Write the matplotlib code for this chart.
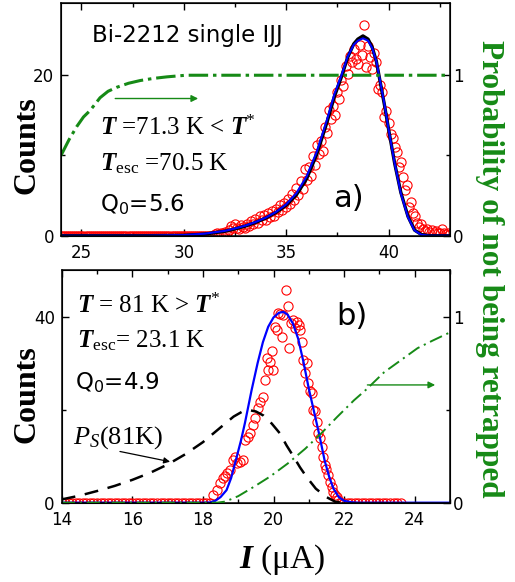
import matplotlib
matplotlib.use('Agg')
import matplotlib.pyplot as plt
from matplotlib.ticker import MultipleLocator

plt.rcParams['mathtext.fontset'] = 'custom'
plt.rcParams['mathtext.rm'] = 'Liberation Serif'
plt.rcParams['mathtext.it'] = 'Liberation Serif:italic'
plt.rcParams['mathtext.bf'] = 'Liberation Serif:bold'
plt.rcParams['mathtext.bfit'] = 'Liberation Serif:italic:bold'
plt.rcParams['mathtext.sf'] = 'DejaVu Sans'
plt.rcParams['lines.scale_dashes'] = False

# ---- panel a) : T = 71.3 K ----
topI = [24.0, 24.1, 24.2, 24.3, 24.4, 24.5, 24.6, 24.7, 24.8, 24.9,
        25.0, 25.1, 25.2, 25.3, 25.4, 25.5, 25.6, 25.7, 25.8, 25.9,
        26.0, 26.1, 26.2, 26.3, 26.4, 26.5, 26.6, 26.7, 26.8, 26.9,
        27.0, 27.1, 27.2, 27.3, 27.4, 27.5, 27.6, 27.7, 27.8, 27.9,
        28.0, 28.1, 28.2, 28.3, 28.4, 28.5, 28.6, 28.7, 28.8, 28.9,
        29.0, 29.1, 29.2, 29.3, 29.4, 29.5, 29.6, 29.7, 29.8, 29.9,
        30.0, 30.1, 30.2, 30.3, 30.4, 30.5, 30.6, 30.7, 30.8, 30.9,
        31.0, 31.1, 31.2, 31.3, 31.4, 31.5, 31.6, 31.7, 31.8, 31.9,
        32.0, 32.1, 32.2, 32.3, 32.4, 32.5, 32.6, 32.7, 32.8, 32.9,
        33.0, 33.1, 33.2, 33.3, 33.4, 33.5, 33.6, 33.7, 33.8, 33.9,
        34.0, 34.1, 34.2, 34.3, 34.4, 34.5, 34.6, 34.7, 34.8, 34.9,
        35.0, 35.1, 35.2, 35.3, 35.4, 35.5, 35.6, 35.7, 35.8, 35.9,
        36.0, 36.1, 36.2, 36.3, 36.4, 36.5, 36.6, 36.7, 36.8, 36.9,
        37.0, 37.1, 37.2, 37.3, 37.4, 37.5, 37.6, 37.7, 37.8, 37.9,
        38.0, 38.1, 38.2, 38.3, 38.4, 38.5, 38.6, 38.7, 38.8, 38.9,
        39.0, 39.1, 39.2, 39.3, 39.4, 39.5, 39.6, 39.7, 39.8, 39.9,
        40.0, 40.1, 40.2, 40.3, 40.4, 40.5, 40.6, 40.7, 40.8, 40.9,
        41.0, 41.1, 41.2, 41.3, 41.4, 41.5, 41.6, 41.7, 41.8, 41.9,
        42.0, 42.1, 42.2, 42.3, 42.4, 42.5, 42.6, 42.7, 42.8, 42.9,
        43.0]
topCounts = [0, 0, 0, 0, 0, 0, 0, 0, 0, 0,
             0, 0, 0, 0, 0, 0, 0, 0, 0, 0,
             0, 0, 0, 0, 0, 0, 0, 0, 0, 0,
             0, 0, 0, 0, 0, 0, 0, 0, 0, 0,
             0, 0, 0, 0, 0, 0, 0, 0, 0, 0,
             0, 0, 0, 0, 0, 0, 0, 0, 0, 0,
             0, 0, 0, 0, 0, 0, 0, 0, 0, 0,
             0, 0, 0, 0, 0, 0.2, 0.3, 0.2, 0.4, 0.3,
             0.5, 0.4, 0.7, 1.2, 0.9, 1.4, 1.0, 0.8, 1.3, 1.1,
             0.9, 1.5, 1.2, 1.8, 1.4, 2.1, 1.6, 2.4, 1.9, 2.6,
             2.0, 2.8, 2.3, 3.1, 2.5, 3.3, 2.9, 3.8, 3.2, 4.1,
             3.6, 4.6, 3.9, 5.2, 4.5, 5.9, 5.1, 6.8, 5.8, 8.3,
             7.0, 8.6, 7.5, 9.9, 8.8, 11.3, 10.2, 11.8, 10.5, 13.6,
             12.8, 15.7, 14.5, 16.2, 15.0, 17.9, 17.1, 19.4, 18.6, 21.2,
             20.1, 22.4, 21.6, 23.3, 22.0, 21.4, 23.8, 22.5, 26.2, 21.0,
             23.6, 22.3, 20.8, 22.8, 21.7, 18.3, 18.8, 17.9, 14.8, 15.6,
             14.0, 12.7, 12.2, 11.1, 10.4, 8.6, 9.2, 7.3, 5.7, 6.3,
             3.6, 4.2, 2.8, 2.4, 1.6, 1.1, 1.4, 0.8, 0.6, 0.8,
             0.5, 0.7, 0.4, 0.6, 0.3, 0.4, 0.8, 0.3, 0.2, 0.4,
             0.2]

topFitI = [24, 28, 30, 31, 32, 32.5, 33, 33.5, 34, 34.5, 35, 35.5, 36, 36.5, 37, 37.35, 37.7,
           38.0, 38.3, 38.5, 38.75, 39.0, 39.2, 39.4, 39.64, 39.8, 40.0, 40.3, 40.6, 40.95,
           41.27, 41.6, 42.0, 43.0]
topFitBlack = [0, 0, 0.05, 0.2, 0.55, 0.85, 1.2, 1.65, 2.2, 2.9, 3.8, 5.1, 7.1, 10.2, 14.2, 17.3, 19.8,
               22.2, 23.9, 24.5, 24.9, 24.5, 23.5, 21.8, 18.5, 16.3, 13.3, 9.0, 5.4, 2.4,
               0.7, 0.15, 0.0, 0.0]
topFitBlue = [0, 0, 0.08, 0.25, 0.6, 0.9, 1.25, 1.7, 2.25, 2.95, 3.9, 5.3, 7.4, 10.5, 14.5, 17.6, 20.0,
              22.3, 23.8, 24.3, 24.6, 24.3, 23.4, 21.8, 18.6, 16.4, 13.3, 9.0, 5.3, 2.3,
              0.65, 0.12, 0.0, 0.0]

topProbI = [24.0, 24.4, 24.77, 25.1, 25.42, 25.91, 26.3, 26.73, 27.3, 27.87, 28.5, 29.18, 30.1, 31.0, 43.0]
topProb = [0.5, 0.6, 0.68, 0.74, 0.78, 0.86, 0.9, 0.925, 0.95, 0.967, 0.98, 0.99, 1.0, 1.0, 1.0]

# ---- panel b) : T = 81 K ----
botI = [14.0, 14.1, 14.2, 14.3, 14.4, 14.5, 14.6, 14.7, 14.8, 14.9,
        15.0, 15.1, 15.2, 15.3, 15.4, 15.5, 15.6, 15.7, 15.8, 15.9,
        16.0, 16.1, 16.2, 16.3, 16.4, 16.5, 16.6, 16.7, 16.8, 16.9,
        17.0, 17.1, 17.2, 17.3, 17.4, 17.5, 17.6, 17.7, 17.8, 17.9,
        18.0, 18.1, 18.2,
        18.30, 18.39, 18.48, 18.56, 18.62, 18.67, 18.77, 18.86, 18.91, 18.97,
        19.05, 19.14, 19.19, 19.29, 19.33, 19.43, 19.48, 19.57, 19.62, 19.71,
        19.76, 19.81, 19.85, 19.90, 19.95, 19.99, 20.04, 20.09, 20.14, 20.18, 20.23, 20.28,
        20.35, 20.40, 20.45, 20.50, 20.56, 20.61, 20.66, 20.71, 20.75, 20.80, 20.84, 20.89, 20.94,
        20.99, 21.03, 21.08, 21.13, 21.18, 21.23, 21.27, 21.32, 21.37, 21.41,
        21.46, 21.50, 21.55, 21.60, 21.65, 21.69, 21.74, 21.79, 21.84,
        21.9, 22.0, 22.1, 22.2, 22.3, 22.4, 22.5, 22.6, 22.7, 22.8,
        22.9, 23.0, 23.1, 23.2, 23.3, 23.4, 23.5, 23.6]
botCounts = [0, 0, 0, 0, 0, 0, 0, 0, 0, 0,
             0, 0, 0, 0, 0, 0, 0, 0, 0, 0,
             0, 0, 0, 0, 0, 0, 0, 0, 0, 0,
             0, 0, 0, 0, 0, 0, 0, 0, 0, 0,
             0, 0, 0,
             1.7, 2.7, 4.2, 5.2, 5.8, 6.3, 7.0, 9.2, 9.9, 8.5,
             8.8, 9.2, 13.5, 14.2, 14.9, 16.7, 18.1, 20.3, 21.7, 22.8,
             26.4, 31.0, 28.5, 30.3, 32.5, 28.5, 37.8, 37.1, 40.7, 40.5, 35.5, 40.4,
             45.7, 42.2, 33.2, 38.6, 39.3, 37.6, 38.9, 38.2, 37.1, 34.6, 30.7, 27.8, 30.0,
             25.7, 23.9, 23.5, 19.9, 19.6, 17.4, 14.9, 13.8, 12.0, 9.9,
             8.1, 7.2, 6.0, 4.5, 3.4, 2.4, 1.6, 1.3, 0.6,
             0, 0, 0, 0, 0, 0, 0, 0, 0, 0,
             0, 0, 0, 0, 0, 0, 0, 0]

botFitI = [14.0, 18.0, 18.2, 18.35, 18.5, 18.67, 18.8, 18.96, 19.08, 19.19, 19.38, 19.55, 19.7,
           19.85, 20.0, 20.15, 20.28, 20.4, 20.55, 20.7, 20.85, 21.0, 21.15, 21.3, 21.45,
           21.58, 21.7, 21.85, 22.0, 22.2, 22.4, 25.0]
botFit = [0, 0, 0.05, 0.4, 1.2, 2.7, 5.3, 9.9, 13.4, 17.1, 24.2, 30.0, 34.5,
          37.8, 39.8, 40.8, 41.0, 40.4, 38.5, 35.2, 30.2, 24.5, 19.5, 14.5, 9.0,
          5.5, 3.0, 1.2, 0.4, 0.1, 0.0, 0.0]

psI = [14.0, 14.5, 15.0, 15.5, 16.0, 16.5, 17.0, 17.5, 18.0, 18.3, 18.6, 18.87, 19.1, 19.3,
       19.5, 19.72, 19.95, 20.18, 20.37, 20.56, 20.75, 20.94, 21.2, 21.5, 21.75, 22.0]
psCounts = [0.7, 1.5, 2.5, 3.6, 4.9, 6.4, 8.2, 10.4, 13.0, 14.9, 16.8, 18.5, 19.5, 19.9,
            19.6, 18.7, 17.0, 14.9, 12.3, 10.0, 7.6, 5.5, 3.0, 1.2, 0.2, 0.0]

botProbI = [14.0, 18.4, 18.6, 18.79, 19.0, 19.45, 19.9, 20.4, 20.9, 21.34, 21.8, 22.28,
            22.64, 23.13, 24.08, 24.5, 25.0]
botProb = [0, 0, 0.005, 0.018, 0.035, 0.086, 0.14, 0.21, 0.29, 0.37, 0.46, 0.55,
           0.61, 0.70, 0.83, 0.87, 0.915]

green = '#168a16'
serif = 'Liberation Serif'

fig = plt.figure(figsize=(5.15, 5.82), dpi=100)
axA = fig.add_axes([0.1184, 0.595, 0.7553, 0.3998])
axB = fig.add_axes([0.1198, 0.1363, 0.7540, 0.3998])


def styleAxes(ax, xmaj, xmin, ymaj, ymin):
    ax.xaxis.set_major_locator(MultipleLocator(xmaj))
    ax.xaxis.set_minor_locator(MultipleLocator(xmin))
    ax.yaxis.set_major_locator(MultipleLocator(ymaj))
    ax.yaxis.set_minor_locator(MultipleLocator(ymin))
    ax.tick_params(which='both', direction='in', top=True, right=False, width=1.0, labelsize=12)
    ax.tick_params(which='major', length=5)
    ax.tick_params(which='minor', length=3)
    ax.tick_params(axis='x', pad=6)
    ax.tick_params(axis='y', pad=5)
    for s in ax.spines.values():
        s.set_linewidth(1.1)


def styleTwin(tw, top):
    tw.set_ylim(0, top)
    tw.yaxis.set_major_locator(MultipleLocator(1))
    tw.yaxis.set_minor_locator(MultipleLocator(0.5))
    tw.tick_params(which='both', direction='in', width=1.0, labelsize=12, pad=2)
    tw.tick_params(which='major', length=5)
    tw.tick_params(which='minor', length=3)


# panel a
axA.plot(topI, topCounts, 'o', mfc='none', mec='red', ms=6.6, mew=0.8)
axA.plot(topFitI, topFitBlack, color='black', lw=2.4)
axA.plot(topFitI, topFitBlue, color='blue', lw=1.5)
axA.set_xlim(24, 43)
axA.set_ylim(0, 29)
styleAxes(axA, 5, 2.5, 20, 10)
twA = axA.twinx()
twA.plot(topProbI, topProb, color=green, lw=2.2, dashes=(14, 3.5, 2.5, 3.5))
styleTwin(twA, 1.45)

axA.text(0.081, 0.834, 'Bi-2212 single IJJ', transform=axA.transAxes, fontsize=16.5, va='baseline')
axA.text(0.100, 0.433, r'$\mathbfit{T}$ =71.3 K < $\mathbfit{T}^{*}$', transform=axA.transAxes,
         family=serif, fontsize=18, va='baseline')
axA.text(0.100, 0.282, r'$\mathbfit{T}_{\mathrm{esc}}$ =70.5 K', transform=axA.transAxes,
         family=serif, fontsize=18, va='baseline')
axA.text(0.100, 0.103, r'Q$_{\mathsf{0}}$=5.6', transform=axA.transAxes, fontsize=16.5, va='baseline')
axA.text(0.700, 0.123, 'a)', transform=axA.transAxes, fontsize=22, va='baseline')
axA.annotate('', xy=(30.7, 17.1), xytext=(26.65, 17.1),
             arrowprops=dict(arrowstyle='-|>', color=green, lw=1.0, mutation_scale=10,
                             shrinkA=0, shrinkB=0))

# panel b
axB.plot(botI, botCounts, 'o', mfc='none', mec='red', ms=6.6, mew=0.8)
axB.plot(psI, psCounts, color='black', lw=1.8, dashes=(10, 7))
axB.plot(botFitI, botFit, color='blue', lw=1.6)
axB.set_xlim(14, 25)
axB.set_ylim(0, 50)
styleAxes(axB, 2, 1, 40, 20)
twB = axB.twinx()
twB.plot(botProbI, botProb, color=green, lw=1.4, dashes=(9.5, 3.5, 1.5, 3.5))
styleTwin(twB, 1.25)

axB.text(0.0386, 0.814, r'$\mathbfit{T}$ = 81 K > $\mathbfit{T}^{*}$', transform=axB.transAxes,
         family=serif, fontsize=18, va='baseline')
axB.text(0.0386, 0.668, r'$\mathbfit{T}_{\mathrm{esc}}$= 23.1 K', transform=axB.transAxes,
         family=serif, fontsize=18, va='baseline')
axB.text(0.034, 0.484, r'Q$_{\mathsf{0}}$=4.9', transform=axB.transAxes, fontsize=16.5, va='baseline')
axB.text(0.708, 0.764, 'b)', transform=axB.transAxes, fontsize=22, va='baseline')
axB.text(0.028, 0.255, r'$\mathit{P}_{\mathit{S}}$(81K)', transform=axB.transAxes,
         family=serif, fontsize=19, va='baseline')
axB.annotate('', xy=(17.07, 8.8), xytext=(15.65, 11.0),
             arrowprops=dict(arrowstyle='-|>', color='black', lw=0.9, mutation_scale=9,
                             shrinkA=0, shrinkB=0))
axB.annotate('', xy=(24.58, 25.3), xytext=(22.66, 25.3),
             arrowprops=dict(arrowstyle='-|>', color=green, lw=1.0, mutation_scale=10,
                             shrinkA=0, shrinkB=0))

# shared labels
fig.text(0.052, 0.751, 'Counts', rotation=90, family=serif, weight='bold', fontsize=23,
         ha='center', va='center')
fig.text(0.052, 0.322, 'Counts', rotation=90, family=serif, weight='bold', fontsize=23,
         ha='center', va='center')
fig.text(0.951, 0.5387, 'Probability of not being retrapped', rotation=270, color=green,
         family=serif, weight='bold', fontsize=22.5, ha='center', va='center')
fig.text(0.548, 0.024, r'$\mathbfit{I}$ (μA)', family=serif, fontsize=24, ha='center', va='baseline')

fig.savefig('out.png', dpi=100)
